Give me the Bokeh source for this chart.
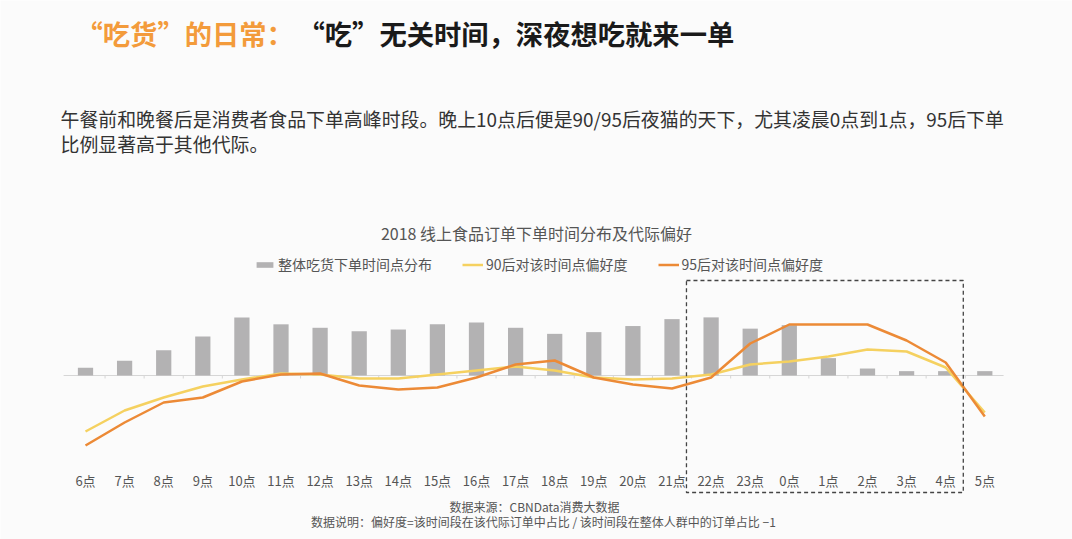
from bokeh.plotting import figure
from bokeh.models import Range1d, Label, Legend, LegendItem, ColumnDataSource
from bokeh.core.properties import value
from bokeh.embed import file_html
from bokeh.resources import INLINE

# ---------------- data ----------------
hours = ["6点", "7点", "8点", "9点", "10点", "11点", "12点", "13点", "14点", "15点", "16点", "17点",
         "18点", "19点", "20点", "21点", "22点", "23点", "0点", "1点", "2点", "3点", "4点", "5点"]
overall_share = [0.9, 1.7, 2.9, 4.5, 6.7, 5.9, 5.5, 5.1, 5.3, 5.9, 6.1, 5.5,
                 4.8, 5.0, 5.7, 6.5, 6.7, 5.4, 5.8, 2.0, 0.8, 0.5, 0.5, 0.5]
pref_90 = [-0.56, -0.35, -0.22, -0.11, -0.04, 0.02, 0.01, -0.03, -0.03, 0.01, 0.05, 0.09,
           0.05, -0.02, -0.04, -0.03, 0.01, 0.11, 0.14, 0.19, 0.26, 0.24, 0.08, -0.37]
pref_95 = [-0.70, -0.47, -0.27, -0.22, -0.06, 0.01, 0.02, -0.10, -0.14, -0.12, -0.02, 0.11,
           0.15, -0.02, -0.09, -0.13, -0.02, 0.32, 0.51, 0.51, 0.51, 0.35, 0.13, -0.41]

header_orange = "“吃货”的日常："
header_black = "“吃”无关时间，深夜想吃就来一单"
subtitle_1 = "午餐前和晚餐后是消费者食品下单高峰时段。晚上10点后便是90/95后夜猫的天下，尤其凌晨0点到1点，95后下单"
subtitle_2 = "比例显著高于其他代际。"
chart_title = "2018 线上食品订单下单时间分布及代际偏好"
legend_labels = ["整体吃货下单时间点分布", "90后对该时间点偏好度", "95后对该时间点偏好度"]
source_note = "数据来源：CBNData消费大数据"
method_note = "数据说明：偏好度=该时间段在该代际订单中占比 / 该时间段在整体人群中的订单占比 −1"
highlight = ("22点", "4点")

FONT = "Noto Sans CJK SC"
W, H = 1072, 539
BG = "#fbfbfb"

idx = list(range(len(hours)))
src = ColumnDataSource(dict(x=idx, hour=hours, share=overall_share, p90=pref_90, p95=pref_95,
                            ly=[-1.05] * len(hours)))

p = figure(width=W, height=H, output_backend="svg", toolbar_location=None,
           x_range=Range1d(-2.174, 25.243), y_range=Range1d(-1.64, 3.75),
           min_border=0, min_border_left=0, min_border_right=0, min_border_top=0, min_border_bottom=0,
           background_fill_color=BG, border_fill_color=BG, outline_line_color=None)
p.xaxis.visible = False
p.yaxis.visible = False
p.grid.visible = False
p.extra_y_ranges = {"share": Range1d(-18.92, 43.25)}

# baseline with small ticks
p.segment(x0=[-0.56], x1=[23.48], y0=[0], y1=[0], line_color="#d6d6d6", line_width=1.2)
p.segment(x0=[i + 0.5 for i in idx[:-1]], x1=[i + 0.5 for i in idx[:-1]],
          y0=[0] * (len(idx) - 1), y1=[-0.03] * (len(idx) - 1), line_color="#d6d6d6", line_width=1)

bars = p.vbar(x="x", top="share", bottom=0, width=0.39, source=src, y_range_name="share",
              fill_color="#b3b2b3", line_color=None)
l90 = p.line(x="x", y="p90", source=src, line_color="#f5d160", line_width=2.5, line_join="round")
l95 = p.line(x="x", y="p95", source=src, line_color="#ec8a36", line_width=2.5, line_join="round")

# highlight box
i0 = hours.index(highlight[0])
i1 = hours.index(highlight[1])
p.quad(left=[i0 - 0.63], right=[i1 + 0.45], top=[0.95], bottom=[-1.17],
       fill_color=None, line_color="#444444", line_width=1.3, line_dash="4 3")

# category labels
p.text(x="x", y="ly", text="hour", source=src, text_font=value(FONT), text_font_size="13px",
       text_color="#555555", text_align="center", text_baseline="middle")

legend = Legend(items=[LegendItem(label=legend_labels[0], renderers=[bars]),
                       LegendItem(label=legend_labels[1], renderers=[l90]),
                       LegendItem(label=legend_labels[2], renderers=[l95])],
                orientation="horizontal", location=(254, 265), padding=0, margin=0, spacing=30,
                glyph_width=21, glyph_height=7, label_standoff=3, label_height=18,
                label_text_font=FONT, label_text_font_size="14px", label_text_color="#555555",
                border_line_color=None, background_fill_alpha=0)
p.add_layout(legend, "center")


def lab(text, x, y_top, size, color, bold=False, align="left"):
    p.add_layout(Label(x=x, y=H - y_top, x_units="screen", y_units="screen", text=text,
                       text_font=FONT, text_font_size=size, text_color=color,
                       text_font_style="bold" if bold else "normal",
                       text_align=align, text_baseline="middle"))


lab(header_orange, 75, 32, "27.3px", "#f39b3b", bold=True)
lab(header_black, 297, 32, "27.3px", "#1a1a1a", bold=True)
lab(subtitle_1, 60, 118, "18.9px", "#333333")
lab(subtitle_2, 60, 143, "18.9px", "#333333")
lab(chart_title, 536, 232, "16px", "#555555", align="center")
lab(source_note, 534, 506, "12px", "#555555", align="center")
lab(method_note, 543, 521, "12px", "#555555", align="center")

open("out.html", "w").write(file_html(p, INLINE))
